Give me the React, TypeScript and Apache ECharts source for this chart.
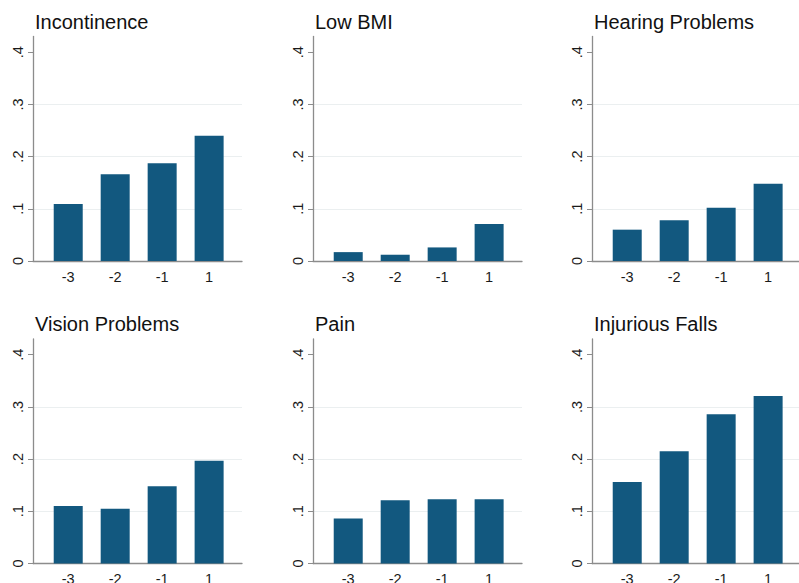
import React, { useEffect, useRef } from "react";
import * as echarts from "echarts";

const panelTitles = ["Incontinence", "Low BMI", "Hearing Problems", "Vision Problems", "Pain", "Injurious Falls"];
const categories = ["-3", "-2", "-1", "1"];
const incontinence = [0.109, 0.166, 0.187, 0.24];
const lowBMI = [0.017, 0.012, 0.026, 0.071];
const hearing = [0.06, 0.078, 0.102, 0.148];
const vision = [0.11, 0.105, 0.148, 0.197];
const pain = [0.086, 0.121, 0.123, 0.123];
const falls = [0.156, 0.215, 0.286, 0.321];
const panelValues = [incontinence, lowBMI, hearing, vision, pain, falls];
const yTicks = [0, 0.1, 0.2, 0.3, 0.4];
const yTickLabels = ["0", ".1", ".2", ".3", ".4"];

const BAR = "#12587f";
const FONT = "Liberation Sans, Arial, Helvetica, sans-serif";

export default function App() {
  const ref = useRef<HTMLDivElement>(null);
  useEffect(() => {
    if (!ref.current) return;
    const chart = echarts.init(ref.current, null, { renderer: "svg" });
    const colX = [33, 313, 592];
    const rowTop = [36.5, 339];
    const gridW = 209;
    const gridH = 224.5;
    const grids: any[] = [];
    const xAxes: any[] = [];
    const yAxes: any[] = [];
    const series: any[] = [];
    const titles: any[] = [];
    panelValues.forEach((vals, i) => {
      const c = i % 3;
      const r = Math.floor(i / 3);
      grids.push({
        left: colX[c],
        top: rowTop[r],
        width: gridW,
        height: gridH,
        containLabel: false,
        outerBoundsMode: "none",
      });
      xAxes.push({
        type: "value",
        gridIndex: i,
        min: -0.75,
        max: 3.7,
        axisLine: { show: true, onZero: false, lineStyle: { color: "#8c8c8c", width: 1.3 } },
        axisTick: { show: false },
        splitLine: { show: false },
        axisLabel: {
          customValues: [0, 1, 2, 3],
          formatter: (v: number) => categories[Math.round(v)] ?? "",
          color: "#1a1a1a",
          fontSize: 14.5,
          fontFamily: FONT,
          margin: 8,
        },
      });
      yAxes.push({
        type: "value",
        gridIndex: i,
        min: 0,
        max: 0.43,
        interval: 0.1,
        axisLine: { show: true, onZero: false, lineStyle: { color: "#8c8c8c", width: 1.3 } },
        axisTick: { show: true, length: 5, customValues: yTicks, lineStyle: { color: "#8c8c8c" } },
        splitLine: { show: true, showMinLine: false, showMaxLine: false, lineStyle: { color: "#ebeff0", width: 1 } },
        axisLabel: {
          customValues: yTicks,
          formatter: (v: number) => {
            const idx = yTicks.findIndex((t) => Math.abs(t - v) < 1e-6);
            return idx >= 0 ? yTickLabels[idx] : "";
          },
          rotate: 90,
          color: "#1a1a1a",
          fontSize: 14.5,
          fontFamily: FONT,
          margin: 8,
        },
      });
      series.push({
        type: "bar",
        xAxisIndex: i,
        yAxisIndex: i,
        barWidth: 29,
        itemStyle: { color: BAR },
        data: vals.map((v, k) => [k, v]),
      });
      titles.push({
        text: panelTitles[i],
        left: colX[c] + 2,
        top: rowTop[r] - 25,
        textStyle: { fontSize: 20, fontWeight: "normal", color: "#111", fontFamily: FONT },
        padding: 0,
      });
    });
    chart.setOption({
      animation: false,
      backgroundColor: "#ffffff",
      title: titles,
      grid: grids,
      xAxis: xAxes,
      yAxis: yAxes,
      series,
    });
    return () => chart.dispose();
  }, []);
  return <div ref={ref} style={{ position: "fixed", left: 0, top: 0, width: 799, height: 583 }} />;
}
